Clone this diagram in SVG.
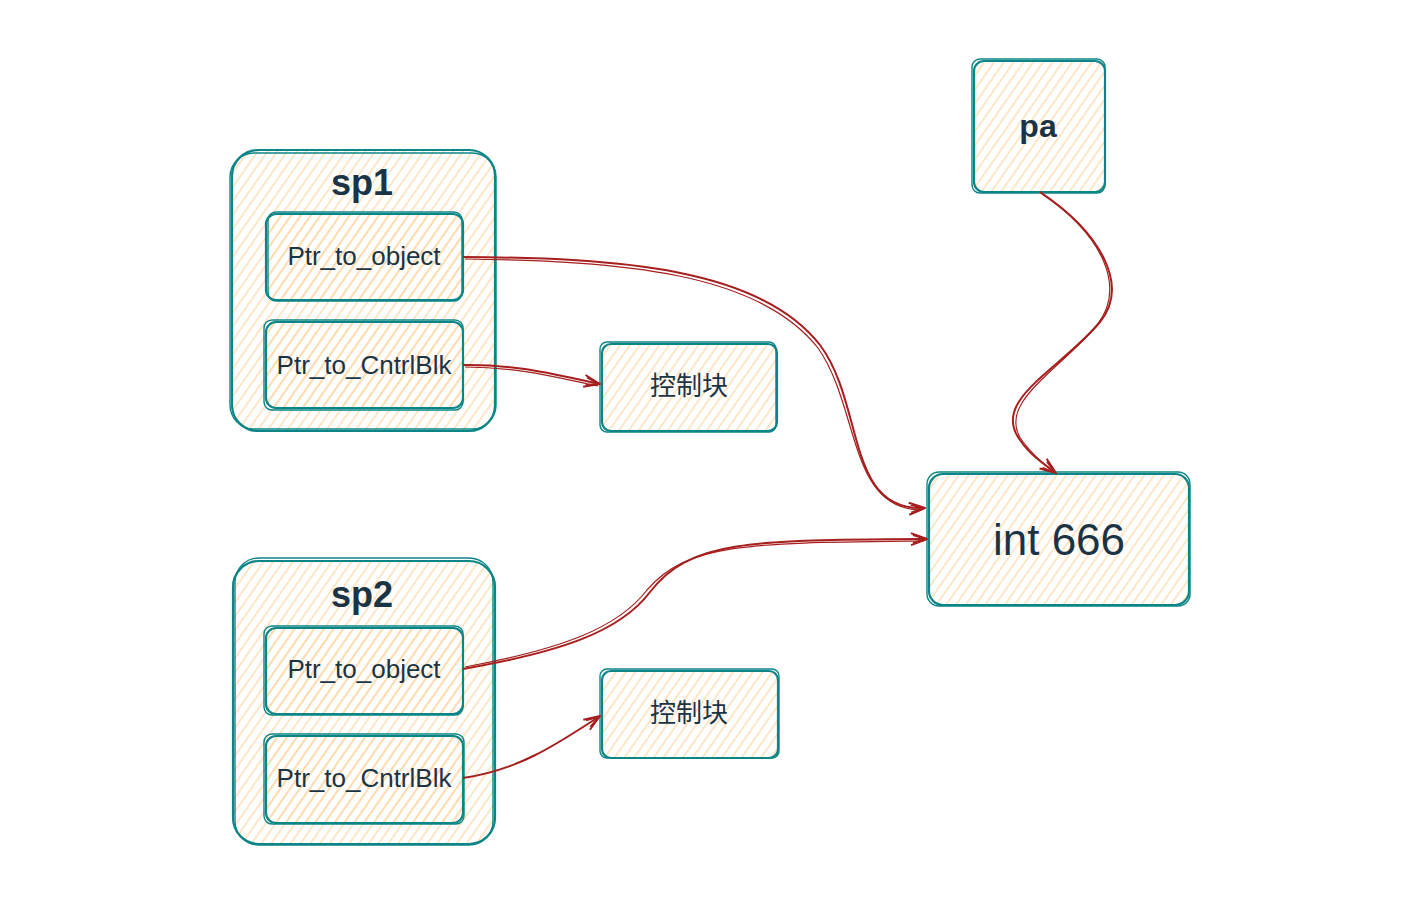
<svg xmlns="http://www.w3.org/2000/svg" width="1411" height="916" viewBox="0 0 1411 916">
<defs>
<pattern id="hatch" width="8" height="8" patternUnits="userSpaceOnUse" patternTransform="rotate(35)">
<line x1="2" y1="0" x2="2" y2="8" stroke="#ffd8a8" stroke-width="1.3"/>
</pattern>
<marker id="arr" viewBox="0 0 18 14" refX="17" refY="7" markerWidth="18" markerHeight="14" markerUnits="userSpaceOnUse" orient="auto">
<path d="M1,1 L17,7 L1,13 M3,3 L16,7 L3,11" fill="none" stroke="#a61e1e" stroke-width="2" stroke-linejoin="round"/>
</marker>
</defs>
<style>
.box{fill:url(#hatch);stroke:#0c8586;stroke-width:2.2}
.sk{fill:none;stroke:#0c8586;stroke-width:1.4}
.t{font-family:"Liberation Sans",Arial,sans-serif;fill:#1b3445;text-anchor:middle}
.cjk{font-family:"Noto Sans CJK SC",sans-serif;fill:#1b3445;text-anchor:middle}
.b{font-weight:bold}
.c{fill:none;stroke:#a61e1e;stroke-width:2}
.c2{fill:none;stroke:#a61e1e;stroke-width:1.2}
</style>
<rect width="1411" height="916" fill="#ffffff"/>

<g id="sp1">
<rect class="box" x="232" y="150" width="263" height="281" rx="26"/>
<rect class="sk" x="230" y="153" width="266" height="276" rx="24"/>
<text class="t b" x="362" y="195" font-size="36">sp1</text>
</g>
<g id="sp1-obj">
<rect class="box" x="266" y="214" width="197" height="86" rx="10"/>
<rect class="sk" x="268" y="212" width="194" height="89" rx="8"/>
<text class="t" x="364" y="265" font-size="26">Ptr_to_object</text>
</g>
<g id="sp1-ctrl">
<rect class="box" x="266" y="322" width="197" height="86" rx="10"/>
<rect class="sk" x="264" y="320" width="199" height="90" rx="8"/>
<text class="t" x="364" y="374" font-size="26">Ptr_to_CntrlBlk</text>
</g>
<g id="ctrl1">
<rect class="box" x="602" y="344" width="175" height="87" rx="9"/>
<rect class="sk" x="600" y="342" width="176" height="90" rx="7"/>
<text class="cjk" x="689" y="395" font-size="26">控制块</text>
</g>

<g id="sp2">
<rect class="box" x="233" y="561" width="262" height="283" rx="26"/>
<rect class="sk" x="235" y="558" width="258" height="287" rx="24"/>
<text class="t b" x="362" y="607" font-size="36">sp2</text>
</g>
<g id="sp2-obj">
<rect class="box" x="266" y="628" width="197" height="86" rx="10"/>
<rect class="sk" x="264" y="626" width="199" height="89" rx="8"/>
<text class="t" x="364" y="678" font-size="26">Ptr_to_object</text>
</g>
<g id="sp2-ctrl">
<rect class="box" x="266" y="736" width="197" height="87" rx="10"/>
<rect class="sk" x="264" y="734" width="200" height="90" rx="8"/>
<text class="t" x="364" y="787" font-size="26">Ptr_to_CntrlBlk</text>
</g>
<g id="ctrl2">
<rect class="box" x="602" y="671" width="176" height="87" rx="9"/>
<rect class="sk" x="600" y="669" width="179" height="89" rx="7"/>
<text class="cjk" x="689" y="722" font-size="26">控制块</text>
</g>

<g id="pa">
<rect class="box" x="974" y="61" width="131" height="131" rx="10"/>
<rect class="sk" x="972" y="59" width="133" height="134" rx="8"/>
<text class="t b" x="1038" y="137" font-size="32">pa</text>
</g>
<g id="int666">
<rect class="box" x="929" y="474" width="260" height="131" rx="14"/>
<rect class="sk" x="927" y="472" width="263" height="134" rx="12"/>
<text class="t" x="1059" y="555" font-size="44">int 666</text>
</g>

<g id="connectors">
<path class="c" d="M463,257 C620,258 760,268 820,345 C865,405 845,512 925,508" marker-end="url(#arr)"/>
<path class="c2" d="M465,259 C622,261 758,272 818,348 C860,408 848,510 922,510"/>
<path class="c" d="M463,365 C520,364 560,376 600,384" marker-end="url(#arr)"/>
<path class="c2" d="M465,367 C522,367 562,379 598,386"/>
<path class="c" d="M463,669 C560,652 620,632 650,592 C690,540 750,540 927,539" marker-end="url(#arr)"/>
<path class="c2" d="M465,667 C562,649 618,628 647,590 C688,542 752,543 924,541"/>
<path class="c" d="M463,778 C520,770 560,742 600,716" marker-end="url(#arr)"/>
<path class="c" d="M1040,192 C1100,232 1130,285 1100,322 C1060,370 990,400 1020,440 C1030,455 1045,465 1056,473" marker-end="url(#arr)"/>
<path class="c2" d="M1042,194 C1104,236 1126,288 1097,325 C1058,372 994,404 1023,442 C1034,456 1046,466 1054,472"/>
</g>
</svg>
